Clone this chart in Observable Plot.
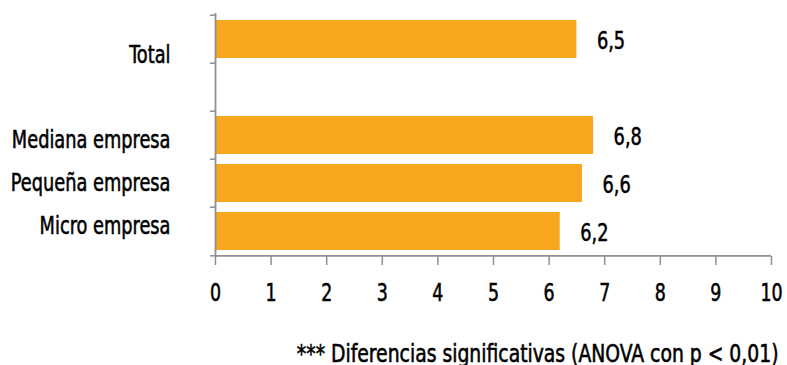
<!DOCTYPE html>
<html>
<head>
<meta charset="utf-8">
<script src="https://cdn.jsdelivr.net/npm/d3@7"></script>
<script src="https://cdn.jsdelivr.net/npm/@observablehq/plot@0.6"></script>
<style>
  html, body { margin: 0; padding: 0; background: #fff; }
  #chart svg { display: block; }
</style>
</head>
<body>
<div id="chart"></div>
<script>
// Company-size categories (blank row separates the total from the breakdown)
const categories = ["Total", " ", "Mediana empresa", "Pequeña empresa", "Micro empresa"];
const barCategories = ["Total", "Mediana empresa", "Pequeña empresa", "Micro empresa"];
const barValues = [6.5, 6.8, 6.6, 6.2];
const valueLabels = ["6,5", "6,8", "6,6", "6,2"];
const xTicks = [0, 1, 2, 3, 4, 5, 6, 7, 8, 9, 10];
const note = "*** Diferencias significativas (ANOVA con p < 0,01)";

const data = barCategories.map((c, i) => ({category: c, value: barValues[i], label: valueLabels[i]}));

const font = "'DejaVu Sans Condensed', 'DejaVu Sans', sans-serif";
const squeeze = 0.79;      // horizontal compression for a narrow typeface look
const noteSqueeze = 0.87;
const axisGrey = "#8f8f8f";
const plotTop = 13, plotBottom = 256, W = 787, H = 365;
const step = (plotBottom - plotTop) / categories.length;

// category labels sit on a slightly tighter rhythm than the bars
const labelMarks = categories.map((c, i) =>
  Plot.text([c], {y: d => d, text: d => d, frameAnchor: "left", textAnchor: "end",
    dx: -45, dy: 15 - 5.2 * i, fontSize: 25, fill: "#000"}));

const chart = Plot.plot({
  width: W, height: H,
  marginLeft: 215, marginRight: 16, marginTop: plotTop, marginBottom: H - plotBottom,
  style: {fontFamily: font, color: "#000", background: "#fff"},
  x: {domain: [0, 10], ticks: xTicks},
  y: {domain: categories, padding: 0, axis: null},
  marks: [
    Plot.barX(data, {x: "value", y: "category", fill: "#F7A61E", insetTop: 5, insetBottom: 5}),
    Plot.text(data, {x: "value", y: "category", text: "label", textAnchor: "start", dx: 20, dy: 1, fontSize: 25, fill: "#000"}),
    ...labelMarks,
    // boundary ticks between rows
    Plot.axisY({tickSize: 5, text: null, label: null, dy: -step / 2, stroke: axisGrey, strokeWidth: 1.5}),
    Plot.axisY({ticks: ["Micro empresa"], tickSize: 5, text: null, label: null, dy: step / 2, stroke: axisGrey, strokeWidth: 1.5}),
    Plot.ruleX([0], {stroke: axisGrey, strokeWidth: 1.8}),
    Plot.ruleY([categories[categories.length - 1]], {x1: 0, x2: 10, dy: step / 2, stroke: axisGrey, strokeWidth: 1.8}),
    Plot.axisX({ticks: xTicks, tickSize: 9, tickPadding: 18, fontSize: 24.5, label: null, stroke: axisGrey, strokeWidth: 1.5, tickFormat: d => String(d)}),
    Plot.text([note], {frameAnchor: "bottom-right", dy: 105, dx: 7, fontSize: 24, textAnchor: "end", fill: "#000"})
  ]
});
document.getElementById("chart").append(chart);

// narrow every label horizontally and give it a slightly heavier stroke
d3.select(chart).selectAll("text").each(function () {
  const len = this.getComputedTextLength();
  if (len > 0) {
    const k = this.textContent === note ? noteSqueeze : squeeze;
    this.setAttribute("textLength", len * k);
    this.setAttribute("lengthAdjust", "spacingAndGlyphs");
    this.style.stroke = "#000";
    this.style.strokeWidth = "0.55px";
  }
});
</script>
</body>
</html>
